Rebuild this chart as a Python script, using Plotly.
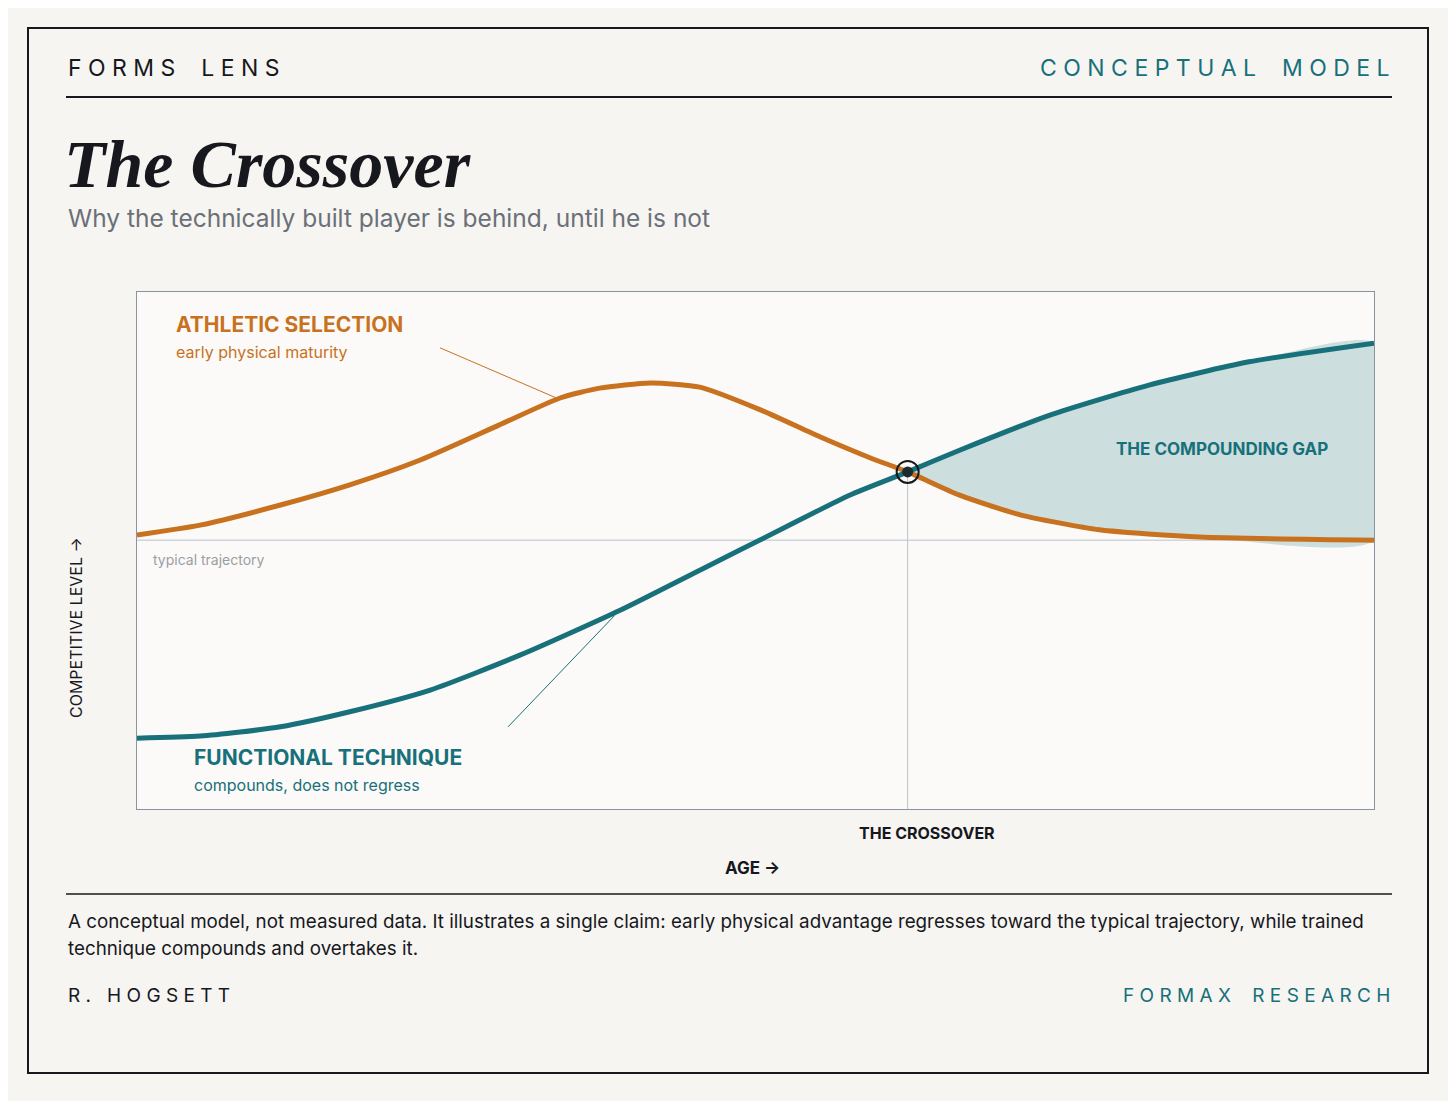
import plotly.graph_objects as go

# age axis 0..100, level axis 0..100 (conceptual, no units)
athletic_age = [0, 5.1, 11.6, 17.2, 22.9, 29.3, 34.2, 37.4, 41.5, 45.5, 50.4, 55.2, 59.3, 62.3, 66.5, 71.4, 77.8, 85.9, 100]
athletic_level = [53.0, 54.9, 58.8, 62.7, 67.5, 74.3, 79.5, 81.4, 82.4, 81.6, 77.2, 72.0, 67.9, 65.2, 60.7, 56.9, 54.0, 52.6, 52.0]
technique_age = [0, 5.1, 11.6, 17.2, 23.7, 31.0, 39.1, 45.5, 52.0, 57.6, 62.3, 66.5, 73.8, 81.8, 89.9, 100]
technique_level = [13.7, 14.1, 15.9, 18.8, 23.0, 29.8, 38.5, 46.2, 54.0, 60.7, 65.2, 69.4, 76.2, 82.0, 86.5, 90.1]
typical_level = 52.0
crossover_age = 62.3
crossover_level = 65.2

ORANGE = "#c8721f"
TEAL = "#17707a"
INK = "#16181d"
FONT = "Inter"

OFF = 8  # browser page margin
W, H = 1456 - OFF, 1101 - OFF
L, R, T, B = 137, 1374, 292, 809


def px(x):
    return (x - L) / (R - L)


def py(y):
    return (B - y) / (B - T)


fig = go.Figure()

# compounding gap fill
gap_x = [a for a in technique_age if a >= crossover_age]
gap_y = [l for a, l in zip(technique_age, technique_level) if a >= crossover_age]
back = [(a, l) for a, l in zip(athletic_age, athletic_level) if a >= crossover_age][::-1]
gap_x += [a for a, _ in back]
gap_y += [l for _, l in back]
fig.add_trace(go.Scatter(x=gap_x, y=gap_y, fill="toself", fillcolor="rgba(23,112,122,0.2)",
                         line=dict(width=0, shape="spline", smoothing=0.6), mode="lines", hoverinfo="skip"))

fig.add_trace(go.Scatter(x=[0, 100], y=[typical_level] * 2, mode="lines",
                         line=dict(color="#b9c2cc", width=1)))
fig.add_trace(go.Scatter(x=[crossover_age] * 2, y=[0, crossover_level], mode="lines",
                         line=dict(color="#b9c2cc", width=1)))

fig.add_trace(go.Scatter(x=athletic_age, y=athletic_level, mode="lines",
                         line=dict(color=ORANGE, width=5, shape="spline", smoothing=0.6)))
fig.add_trace(go.Scatter(x=technique_age, y=technique_level, mode="lines",
                         line=dict(color=TEAL, width=5, shape="spline", smoothing=0.6)))

# callout leaders
fig.add_trace(go.Scatter(x=[24.5, 34.2], y=[89.2, 79.2], mode="lines", line=dict(color=ORANGE, width=1)))
fig.add_trace(go.Scatter(x=[30.0, 38.6], y=[15.9, 37.4], mode="lines", line=dict(color=TEAL, width=1)))

fig.add_trace(go.Scatter(x=[crossover_age], y=[crossover_level], mode="markers",
                         marker=dict(size=22, color="rgba(0,0,0,0)", line=dict(color=INK, width=2))))
fig.add_trace(go.Scatter(x=[crossover_age], y=[crossover_level], mode="markers",
                         marker=dict(size=11, color="#1d2a30")))

ann = []


def text(x, y, s, size, color, xanchor="left", family=FONT, **kw):
    ann.append(dict(xref="paper", yref="paper", x=px(x), y=py(y), text=s, showarrow=False,
                    xanchor=xanchor, yanchor="middle", font=dict(size=size, color=color, family=family), **kw))


SP = "&nbsp;"
text(66, 68, "F O R M S" + SP * 4 + "L E N S", 23, INK)
text(1392, 68, "C O N C E P T U A L" + SP * 4 + "M O D E L", 23, TEAL, xanchor="right")
text(62, 164, "<b><i>The Crossover</i></b>", 68, INK, family="Liberation Serif")
text(66, 218, "Why the technically built player is behind, until he is not", 24.5, "#6b7078")
text(174, 324, "<b>ATHLETIC SELECTION</b>", 21, ORANGE)
text(174, 352, "early physical maturity", 16, ORANGE)
text(151, 559, "typical trajectory", 14, "#9a9ea5")
text(1330, 449, "<b>THE COMPOUNDING GAP</b>", 17, TEAL, xanchor="right")
text(192, 757, "<b>FUNCTIONAL TECHNIQUE</b>", 21, TEAL)
text(192, 785, "compounds, does not regress", 16, TEAL)
text(927, 833, "<b>THE CROSSOVER</b>", 16, INK, xanchor="center")
text(752, 868, "<b>AGE →</b>", 17, INK, xanchor="center")
text(76, 628, "COMPETITIVE LEVEL →", 16, INK, xanchor="center", textangle=-90)
text(66, 921, "A conceptual model, not measured data. It illustrates a single claim: early physical advantage regresses toward the typical trajectory, while trained", 18.8, INK)
text(66, 948, "technique compounds and overtakes it.", 18.8, INK)
text(66, 995, "R ." + SP * 3 + "H O G S E T T", 19, INK)
text(1392, 995, "F O R M A X" + SP * 4 + "R E S E A R C H", 19, TEAL, xanchor="right")

shapes = [
    dict(type="rect", xref="paper", yref="paper", x0=px(28), x1=px(1428), y0=py(28), y1=py(1073),
         line=dict(color=INK, width=2), layer="below"),
    dict(type="line", xref="paper", yref="paper", x0=px(66), x1=px(1392), y0=py(97), y1=py(97),
         line=dict(color=INK, width=2)),
    dict(type="line", xref="paper", yref="paper", x0=px(66), x1=px(1392), y0=py(894), y1=py(894),
         line=dict(color=INK, width=1.5)),
]

fig.update_layout(
    width=W, height=H, margin=dict(l=L - OFF, r=1456 - R, t=T - OFF, b=1101 - B),
    paper_bgcolor="#f6f5f2", plot_bgcolor="#fbfaf8", showlegend=False,
    xaxis=dict(range=[0, 100], showgrid=False, zeroline=False, showticklabels=False,
               showline=True, mirror=True, linecolor="#8a94a0", linewidth=1),
    yaxis=dict(range=[0, 100], showgrid=False, zeroline=False, showticklabels=False,
               showline=True, mirror=True, linecolor="#8a94a0", linewidth=1),
    annotations=ann, shapes=shapes,
)

fig.write_html("out.html")
